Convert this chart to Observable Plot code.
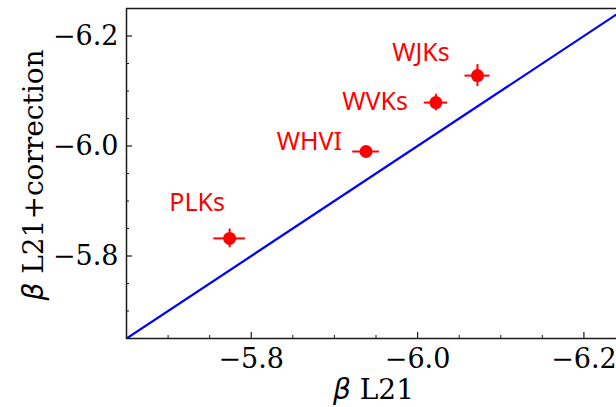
<!DOCTYPE html>
<html>
<head>
<meta charset="utf-8">
<script src="https://cdn.jsdelivr.net/npm/d3@7"></script>
<script src="https://cdn.jsdelivr.net/npm/@observablehq/plot@0.6"></script>
<style>
  html, body { margin: 0; padding: 0; overflow: hidden; background: #fff; }
</style>
</head>
<body>
<div id="chart"></div>
<script>
// Slopes from L21 vs. slopes after correction, one point per period–luminosity relation
const names    = ["PLKs", "WHVI", "WVKs", "WJKs"];
const betaL21  = [-5.774, -5.938, -6.022, -6.072];
const betaCorr = [-5.832, -5.990, -6.079, -6.128];
const errL21   = [0.019, 0.016, 0.014, 0.015];
const errCorr  = [0.017, 0.009, 0.015, 0.020];
// where each name is written, in data units
const labelX   = [-5.735, -5.870, -5.949, -6.004];
const labelY   = [-5.897, -6.008, -6.080, -6.170];

// axis extents and ticks
const xDomain = [-5.65, -6.25];
const yDomain = [-5.65, -6.25];
const xMajor = [-5.8, -6.0, -6.2];
const yMajor = [-5.8, -6.0, -6.2];
const xMinor = [-5.7, -5.75, -5.85, -5.9, -5.95, -6.05, -6.1, -6.15];
const yMinor = [-5.7, -5.75, -5.85, -5.9, -5.95, -6.05, -6.1, -6.15];
// one-to-one reference line
const oneToOne = [-5.65, -6.25];

const W = 625, H = 407, ML = 126, MR = 0, MT = 8, MB = 69;
const frameW = W - ML - MR, frameH = H - MT - MB;

const rows = names.map((name, i) => ({
  name, x: betaL21[i], y: betaCorr[i], ex: errL21[i], ey: errCorr[i], lx: labelX[i], ly: labelY[i]
}));
const fmt = d => d.toFixed(1).replace("-", "\u2212");
const ink = "#1a1a1a";

const plot = Plot.plot({
  width: W, height: H,
  marginLeft: ML, marginRight: MR, marginTop: MT, marginBottom: MB,
  style: { fontFamily: "DejaVu Serif", fontSize: "27px", maxWidth: "none", background: "#fff", color: "#000" },
  x: { domain: xDomain, label: null },
  y: { domain: yDomain, label: null },
  marks: [
    Plot.line(oneToOne.map(v => ({ v })), { x: "v", y: "v", stroke: "#0000ff", strokeWidth: 2.2, clip: true }),
    Plot.ruleY(rows, { y: "y", x1: d => d.x - d.ex, x2: d => d.x + d.ex, stroke: "#ff0000", strokeWidth: 2 }),
    Plot.ruleX(rows, { x: "x", y1: d => d.y - d.ey, y2: d => d.y + d.ey, stroke: "#ff0000", strokeWidth: 2 }),
    Plot.dot(rows, { x: "x", y: "y", r: 6.5, fill: "#ff0000", stroke: null }),
    Plot.text(rows, { x: "lx", y: "ly", text: "name", fill: "#ff0000", fontFamily: "Noto Sans", fontSize: 25 }),
    // inward-pointing ticks
    Plot.tickX(xMinor, { x: d => d, insetTop: frameH - 3, stroke: ink, strokeWidth: 1 }),
    Plot.tickX(xMajor, { x: d => d, insetTop: frameH - 6, stroke: ink, strokeWidth: 1.2 }),
    Plot.tickY(yMinor, { y: d => d, insetRight: frameW - 3, stroke: ink, strokeWidth: 1 }),
    Plot.tickY(yMajor, { y: d => d, insetRight: frameW - 6, stroke: ink, strokeWidth: 1.2 }),
    Plot.axisX(xMajor, { tickSize: 0, tickPadding: 10, tickFormat: fmt, label: null, fontSize: 27 }),
    Plot.axisY(yMajor, { tickSize: 0, tickPadding: 8, tickFormat: fmt, label: null, fontSize: 27 }),
    Plot.frame({ stroke: ink, strokeWidth: 1.5 })
  ]
});

document.getElementById("chart").appendChild(plot);

// axis titles with an italic beta
const svg = d3.select(plot);
function title(sel, rest) {
  sel.append("tspan").attr("font-family", "DejaVu Sans").attr("font-style", "italic").text("\u03b2");
  sel.append("tspan").text(" " + rest);
}
svg.append("text")
  .attr("x", ML + frameW / 2 - 2).attr("y", H - 8)
  .attr("text-anchor", "middle").attr("font-size", 28).attr("font-family", "DejaVu Serif")
  .call(title, "L21");
svg.append("text")
  .attr("transform", `translate(${43},${MT + frameH / 2 + 2}) rotate(-90)`)
  .attr("text-anchor", "middle").attr("font-size", 28).attr("font-family", "DejaVu Serif")
  .call(title, "L21+correction");
</script>
</body>
</html>
